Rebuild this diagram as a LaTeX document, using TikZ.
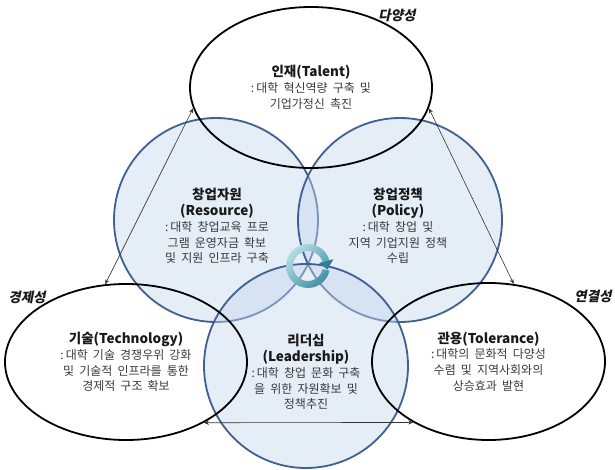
\documentclass[tikz,border=0pt]{standalone}
\usepackage{fontspec}
\setmainfont{Noto Sans CJK KR}[WordSpace=1.9]
\newfontfamily\slantko{Noto Sans CJK KR}[FakeSlant=0.2]
\usetikzlibrary{shapes.geometric,arrows.meta}
\definecolor{circline}{HTML}{3F6090}
\definecolor{circfill}{HTML}{C5D6EC}
\definecolor{icondark}{HTML}{3F8FA2}
\definecolor{iconlight}{HTML}{B8E2EA}
\definecolor{iconhead}{HTML}{2F7F92}
\definecolor{bodytext}{HTML}{3A3A3A}
\begin{document}
\begin{tikzpicture}[x=1pt,y=1pt,
  bigcircle/.style={circle, minimum size=204pt, inner sep=0pt, draw=circline,
    line width=1.8pt, fill=circfill, fill opacity=0.45},
  outerring/.style={ellipse, draw=black, line width=1.8pt, inner sep=0pt,
    align=center, text=bodytext, font=\fontsize{12}{15.8}\selectfont},
  desc/.style={align=center, text=bodytext, inner sep=0pt,
    font=\fontsize{12}{15.8}\selectfont},
  tag/.style={font=\slantko\bfseries\fontsize{13.5}{15}\selectfont, text=black!90, inner sep=0pt},
  conn/.style={arrows={Stealth[length=5pt,width=4pt]-Stealth[length=5pt,width=4pt]},
    line width=0.6pt, draw=black!80}
]
\newcommand{\hd}[1]{{\fontsize{13.5}{16}\selectfont\bfseries\color{black!90}#1}}
\useasboundingbox (0,0) rectangle (615,-470);

% three overlapping blue circles
\node[bigcircle] (res)  at (216,-220) {};
\node[bigcircle] (pol)  at (400,-220) {};
\node[bigcircle] (lead) at (306,-366) {};

% three outer ellipses with their texts
\node[outerring, minimum width=242pt, minimum height=161pt] (tal) at (311,-87.5)
  {\hd{인재(Talent)}\\:\,대학 혁신역량 구축 및\\기업가정신 촉진};
\node[outerring, minimum width=242pt, minimum height=156pt] (tech) at (126,-362)
  {\hd{기술(Technology)}\\:\,대학 기술 경쟁우위 강화\\및 기술적 인프라를 통한\\경제적 구조 확보};
\node[outerring, minimum width=233pt, minimum height=157pt] (tol) at (488.5,-361.5)
  {\hd{관용(Tolerance)}\\:\,대학의 문화적 다양성\\수렴 및 지역사회와의\\상승효과 발현};

% double-headed links between the ellipses
\draw[conn] (tal.190) -- (tech.105);
\draw[conn] (tal.350) -- (tol.72);
\draw[conn] (tech.-38) -- (tol.219);

% circular arrow in the middle
\coordinate (icon) at (308,-266);
\begin{scope}[shift={(icon)}]
  \shade[top color=iconlight, bottom color=icondark, shading angle=45]
    (-12:22) arc[start angle=-12, end angle=-345, radius=22]
    -- (-345:15) arc[start angle=-345, end angle=-12, radius=15] -- cycle;
  \fill[iconhead] (25.4,6.8) -- (11.1,3.0) -- (19.4,-3.6) -- cycle;
\end{scope}

% circle texts
\node[desc] (restext) at (217,-226)
  {\hd{창업자원}\\\hd{(Resource)}\\:\,대학 창업교육 프로\\그램 운영자금 확보\\및 지원 인프라 구축};
\node[desc] (poltext) at (398,-226)
  {\hd{창업정책}\\\hd{(Policy)}\\:\,대학 창업 및\\지역 기업지원 정책\\수립};
\node[desc] (leadtext) at (306,-372)
  {\hd{리더십}\\\hd{(Leadership)}\\:\,대학 창업 문화 구축\\을 위한 자원확보 및\\정책추진};

% side labels
\node[tag] (div) at (397,-15) {다양성};
\node[tag] (eco) at (27,-297) {경제성};
\node[tag] (con) at (593,-296) {연결성};
\end{tikzpicture}
\end{document}
